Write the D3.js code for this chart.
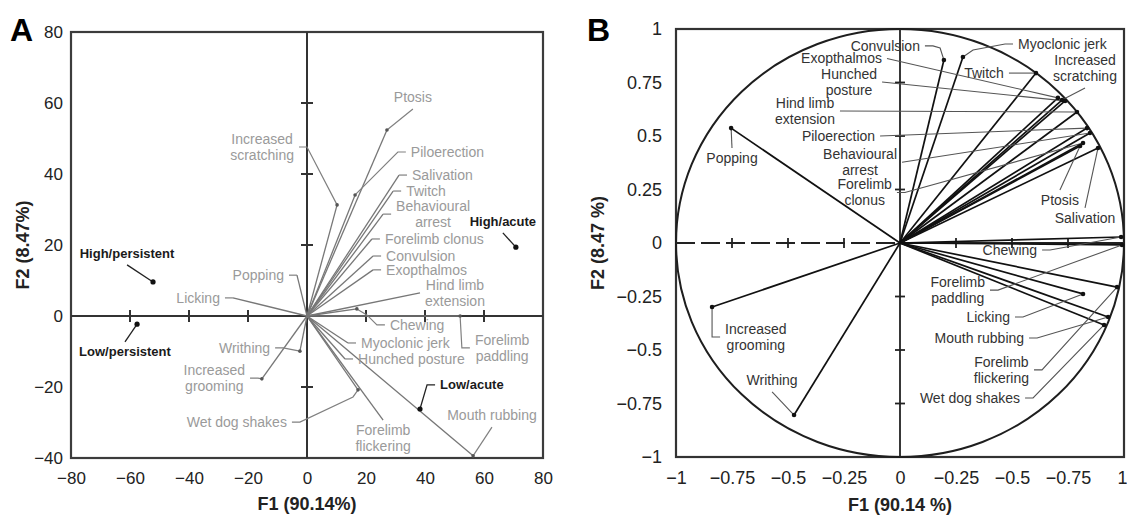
<!DOCTYPE html>
<html><head><meta charset="utf-8">
<script src="https://cdn.jsdelivr.net/npm/d3@7"></script>
<style>
body{margin:0;background:#fff;}
svg{display:block;font-family:"Liberation Sans",Arial,sans-serif;}
</style></head><body>
<svg id="chart" width="1127" height="516"></svg>
<script>
// ---- panel A : behaviour scores on F1 / F2 (%)
const aNames = ["Ptosis","Increased scratching","Piloerection","Salivation","Twitch","Behavioural arrest",
  "Forelimb clonus","Convulsion","Exopthalmos","Hind limb extension","Chewing","Forelimb paddling",
  "Myoclonic jerk","Hunched posture","Forelimb flickering","Mouth rubbing","Wet dog shakes","Writhing",
  "Increased grooming","Licking","Popping"]
const aF1 = [27.1,10.2,16.3,31.2,29.2,25.8,22,22.4,22.4,38.3,16.9,51.9,13.9,12.9,25.8,56.3,17.3,-2.4,-15.3,-25.1,-3.4]
const aF2 = [52.4,31.3,34.1,39.7,35.2,28.7,21.7,16.9,13,6.5,2,0,-7.6,-12.1,-29.3,-39.4,-20.8,-9.9,-17.7,5.1,11.5]

// treatment groups in panel A
const grpNames = ["High/persistent","Low/persistent","High/acute","Low/acute"]
const grpF1 = [-52.2,-57.6,70.8,38.3]
const grpF2 = [9.6,-2.3,19.4,-26.2]

const aTicksX = [-80,-60,-40,-20,0,20,40,60,80]
const aTicksY = [-40,-20,0,20,40,60,80]

// ---- panel B : correlation circle
const bNames = ["Convulsion","Myoclonic jerk","Twitch","Increased scratching","Exopthalmos","Hunched posture",
  "Hind limb extension","Piloerection","Behavioural arrest","Forelimb clonus","Ptosis","Salivation","Chewing",
  "Forelimb paddling","Licking","Mouth rubbing","Forelimb flickering","Wet dog shakes","Popping",
  "Increased grooming","Writhing"]
const bF1 = [0.196,0.281,0.607,0.723,0.705,0.737,0.79,0.835,0.848,0.817,0.804,0.884,0.987,0.991,0.817,0.929,0.969,0.911,-0.754,-0.839,-0.473]
const bF2 = [0.855,0.869,0.794,0.668,0.678,0.664,0.612,0.537,0.514,0.467,0.453,0.444,0.028,-0.009,-0.238,-0.346,-0.206,-0.383,0.537,-0.299,-0.804]

const bTicks = [-1,-0.75,-0.5,-0.25,0,0.25,0.5,0.75,1]
const bTickLabelsX = ["\u22121","\u22120.75","\u22120.5","\u22120.25","0","\u22120.25","\u22120.5","\u22120.75","1"]
const bTickLabelsY = ["\u22121","\u22120.75","\u22120.5","\u22120.25","0","0.25","0.5","0.75","1"]

// label placement: leader bends (same units as the panel), side of the text
const aLab = {
  "Ptosis": {via:[[35.9,58.3]], at:"t"},
  "Increased scratching": {via:[[0,47.6]], at:"l", wrap:true},
  "Piloerection": {via:[[30.8,46.2]], at:"r"},
  "Salivation": {via:[], at:"r"},
  "Twitch": {via:[], at:"r"},
  "Behavioural arrest": {via:[], at:"r", wrap:true},
  "Forelimb clonus": {via:[], at:"r"},
  "Convulsion": {via:[], at:"r"},
  "Exopthalmos": {via:[], at:"r"},
  "Hind limb extension": {via:[], at:"R", wrap:true},
  "Chewing": {via:[[20.3,0.3],[23.7,-2.5]], at:"r"},
  "Forelimb paddling": {via:[[52.5,-9]], at:"r", wrap:true},
  "Myoclonic jerk": {via:[], at:"r"},
  "Hunched posture": {via:[], at:"r"},
  "Forelimb flickering": {via:[], at:"b", wrap:true},
  "Mouth rubbing": {via:[[62.7,-31.3]], at:"t"},
  "Wet dog shakes": {via:[[15.6,-22.8],[-2.4,-29.9]], at:"l"},
  "Writhing": {via:[[-8.1,-9]], at:"l"},
  "Increased grooming": {via:[[-16.6,-17.5]], at:"l", wrap:true},
  "Licking": {via:[], at:"l"},
  "Popping": {via:[], at:"l"}
}
const gLab = {
  "High/persistent": {via:[[-61,14.4]], at:"t"},
  "Low/persistent": {via:[[-61.7,-7.3]], at:"b"},
  "High/acute": {via:[[66.4,23.4]], at:"t"},
  "Low/acute": {via:[[40.7,-19.4]], at:"r"}
}
const bLab = {
  "Convulsion": {via:[[0.179,0.911],[0.147,0.921]], at:"l"},
  "Myoclonic jerk": {via:[[0.326,0.902],[0.469,0.93]], at:"r"},
  "Twitch": {via:[[0.522,0.794]], at:"l"},
  "Increased scratching": {via:[[0.826,0.724]], at:"t", wrap:true},
  "Exopthalmos": {via:[[-0.058,0.862]], at:"L"},
  "Hunched posture": {via:[[-0.08,0.752]], at:"L", wrap:true},
  "Hind limb extension": {via:[[-0.268,0.617]], at:"L", wrap:true},
  "Piloerection": {via:[[-0.089,0.5]], at:"L"},
  "Behavioural arrest": {via:[[0.009,0.377]], at:"L", wrap:true},
  "Forelimb clonus": {via:[[0.022,0.236]], at:"l", wrap:true},
  "Ptosis": {via:[[0.714,0.248]], at:"b"},
  "Salivation": {via:[[0.826,0.164]], at:"b"},
  "Chewing": {via:[[0.67,-0.033]], at:"l"},
  "Forelimb paddling": {via:[[0.4375,-0.22]], at:"l", wrap:true},
  "Licking": {via:[[0.549,-0.346]], at:"l"},
  "Mouth rubbing": {via:[[0.612,-0.444]], at:"l"},
  "Forelimb flickering": {via:[[0.634,-0.593]], at:"l", wrap:true},
  "Wet dog shakes": {via:[[0.594,-0.724]], at:"l"},
  "Popping": {via:[[-0.75,0.444]], at:"b"},
  "Increased grooming": {via:[[-0.839,-0.439]], at:"r", wrap:true},
  "Writhing": {via:[[-0.571,-0.696]], at:"t"}
}

const svg = d3.select("#chart")
const LH = 16

function splitName(name, wrap) {
  if (!wrap) return [name]
  var k = name.lastIndexOf(" ")
  return [name.slice(0,k), name.slice(k+1)]
}

function drawLabel(g, sx, sy, end, lab, name, st) {
  var pts = [end].concat(lab.via).map(p => [sx(p[0]), sy(p[1])])
  var t = pts[pts.length-1]
  var side = lab.at.toLowerCase()
  if (lab.at === "l" || lab.at === "r") pts.push([t[0] + (side === "r" ? 8 : -8), t[1]])
  if (pts.length > 1) {
    g.append("path").attr("d", d3.line()(pts))
      .attr("fill","none").attr("stroke", st.lead).attr("stroke-width", st.leadW)
  }
  var lines = splitName(name, lab.wrap)
  var n = lines.length
  var txt = g.append("text").attr("font-size", st.fs).attr("fill", st.fill)
    .attr("font-weight", st.weight || "normal")
  var ts = lines.map(l => txt.append("tspan").text(l))
  if (side === "t" || side === "b") {
    txt.attr("text-anchor","middle")
    ts.forEach((s,i) => {
      var base = side === "t" ? t[1] - 7 - (n-1-i)*LH : t[1] + 5 + st.fs*0.72 + i*LH
      s.attr("x", t[0]).attr("y", base)
    })
  } else {
    var last = pts[pts.length-1]
    var edge = last[0] + (side === "r" ? 5 : -5)
    var w = ts.map(s => s.node().getComputedTextLength())
    var mw = d3.max(w)
    ts.forEach((s,i) => {
      var left = side === "r" ? edge + (mw - w[i])/2 : edge - mw + (mw - w[i])/2
      s.attr("x", left).attr("y", t[1] + (i - (n-1)/2)*LH + st.fs*0.35)
    })
  }
}

function styleAxis(g, fs) {
  g.select(".domain").remove()
  g.attr("font-size", fs).attr("font-family", null)
  g.selectAll("text").attr("fill","#222")
}

// =================== panel A
const ax = d3.scaleLinear().domain([-80,80]).range([71,543])
const ay = d3.scaleLinear().domain([-40,80]).range([458,32])
const gA = svg.append("g")

gA.append("g").attr("transform", `translate(0,${ay(-40)})`)
  .call(d3.axisBottom(ax).tickValues(aTicksX).tickSize(0).tickPadding(14))
  .call(g => styleAxis(g, 17))
gA.append("g").attr("transform", `translate(${ax(-80)},0)`)
  .call(d3.axisLeft(ay).tickValues(aTicksY).tickSize(0).tickPadding(8))
  .call(g => styleAxis(g, 17))

gA.append("rect").attr("x", ax(-80)).attr("y", ay(80))
  .attr("width", ax(80)-ax(-80)).attr("height", ay(-40)-ay(80))
  .attr("fill","none").attr("stroke","#3c3c3c").attr("stroke-width",2.2)

gA.append("line").attr("x1", ax(-80)).attr("x2", ax(80)).attr("y1", ay(0)).attr("y2", ay(0))
  .attr("stroke","#333").attr("stroke-width",2)
gA.append("line").attr("x1", ax(0)).attr("x2", ax(0)).attr("y1", ay(80)).attr("y2", ay(-40))
  .attr("stroke","#333").attr("stroke-width",2)
gA.selectAll(".tx").data(aTicksX.filter(v => v !== 0 && Math.abs(v) < 80)).enter().append("line")
  .attr("x1", d => ax(d)).attr("x2", d => ax(d)).attr("y1", ay(0)-6).attr("y2", ay(0)+6)
  .attr("stroke","#333").attr("stroke-width",2)
gA.selectAll(".ty").data(aTicksY.filter(v => v !== 0 && v < 80 && v > -40)).enter().append("line")
  .attr("x1", ax(0)-6).attr("x2", ax(0)+6).attr("y1", d => ay(d)).attr("y2", d => ay(d))
  .attr("stroke","#333").attr("stroke-width",2)

// vectors
gA.selectAll(".vec").data(aNames).enter().append("line")
  .attr("x1", ax(0)).attr("y1", ay(0))
  .attr("x2", (d,i) => ax(aF1[i])).attr("y2", (d,i) => ay(aF2[i]))
  .attr("stroke","#777").attr("stroke-width",1.3)
aNames.forEach((nm,i) => {
  drawLabel(gA, ax, ay, [aF1[i], aF2[i]], aLab[nm], nm,
    {fs:14, fill:"#9a9a9a", lead:"#808080", leadW:1.2})
})
gA.selectAll(".adot").data(aNames.filter(nm => aLab[nm].via.length > 0)).enter().append("circle")
  .attr("cx", d => ax(aF1[aNames.indexOf(d)])).attr("cy", d => ay(aF2[aNames.indexOf(d)]))
  .attr("r",1.8).attr("fill","#555")

// groups
grpNames.forEach((nm,i) => {
  drawLabel(gA, ax, ay, [grpF1[i], grpF2[i]], gLab[nm], nm,
    {fs:13, fill:"#1a1a1a", lead:"#222", leadW:1.3, weight:"bold"})
})
gA.selectAll(".gdot").data(grpNames).enter().append("circle")
  .attr("cx", (d,i) => ax(grpF1[i])).attr("cy", (d,i) => ay(grpF2[i]))
  .attr("r",2.6).attr("fill","#111")

gA.append("text").attr("x",10).attr("y",41).attr("font-size",32).attr("font-weight","bold").text("A")
gA.append("text").attr("x", ax(0)).attr("y",510).attr("text-anchor","middle")
  .attr("font-size",18).attr("font-weight","bold").attr("fill","#222").text("F1 (90.14%)")
gA.append("text").attr("transform","translate(29,245) rotate(-90)").attr("text-anchor","middle")
  .attr("font-size",18).attr("font-weight","bold").attr("fill","#222").text("F2 (8.47%)")

// =================== panel B
const bx = d3.scaleLinear().domain([-1,1]).range([676,1124])
const by = d3.scaleLinear().domain([-1,1]).range([457,29])
const gB = svg.append("g")

gB.append("g").attr("transform", `translate(0,${by(-1)})`)
  .call(d3.axisBottom(bx).tickValues(bTicks).tickSize(0).tickPadding(14)
    .tickFormat((d,i) => bTickLabelsX[i]))
  .call(g => styleAxis(g, 18))
  .call(g => g.selectAll(".tick:last-of-type text").attr("text-anchor","end").attr("dx", 3))
gB.append("g").attr("transform", `translate(${bx(-1)},0)`)
  .call(d3.axisLeft(by).tickValues(bTicks).tickSize(0).tickPadding(14)
    .tickFormat((d,i) => bTickLabelsY[i]))
  .call(g => styleAxis(g, 18))

gB.append("rect").attr("x", bx(-1)).attr("y", by(1))
  .attr("width", bx(1)-bx(-1)).attr("height", by(-1)-by(1))
  .attr("fill","none").attr("stroke","#333").attr("stroke-width",2.2)

gB.append("ellipse").attr("cx", bx(0)).attr("cy", by(0))
  .attr("rx", bx(1)-bx(0)).attr("ry", by(0)-by(1))
  .attr("fill","none").attr("stroke","#1e1e1e").attr("stroke-width",2)

gB.append("line").attr("x1", bx(-1)).attr("x2", bx(0)).attr("y1", by(0)).attr("y2", by(0))
  .attr("stroke","#222").attr("stroke-width",1.8).attr("stroke-dasharray","19,6")
gB.append("line").attr("x1", bx(0)).attr("x2", bx(1)).attr("y1", by(0)).attr("y2", by(0))
  .attr("stroke","#222").attr("stroke-width",1.8)
gB.append("line").attr("x1", bx(0)).attr("x2", bx(0)).attr("y1", by(1)).attr("y2", by(-1))
  .attr("stroke","#222").attr("stroke-width",1.8)
const innerB = bTicks.filter(v => v !== 0 && Math.abs(v) < 1)
gB.selectAll(".tx").data(innerB).enter().append("line")
  .attr("x1", d => bx(d)).attr("x2", d => bx(d)).attr("y1", by(0)-5).attr("y2", by(0)+5)
  .attr("stroke","#222").attr("stroke-width",1.8)
gB.selectAll(".ty").data(innerB).enter().append("line")
  .attr("x1", bx(0)-5).attr("x2", bx(0)+5).attr("y1", d => by(d)).attr("y2", d => by(d))
  .attr("stroke","#222").attr("stroke-width",1.8)

gB.selectAll(".vec").data(bNames).enter().append("line")
  .attr("x1", bx(0)).attr("y1", by(0))
  .attr("x2", (d,i) => bx(bF1[i])).attr("y2", (d,i) => by(bF2[i]))
  .attr("stroke","#111").attr("stroke-width",1.7)
bNames.forEach((nm,i) => {
  drawLabel(gB, bx, by, [bF1[i], bF2[i]], bLab[nm], nm,
    {fs:14, fill:"#333", lead:"#555", leadW:1.1})
})
gB.selectAll(".bdot").data(bNames).enter().append("circle")
  .attr("cx", (d,i) => bx(bF1[i])).attr("cy", (d,i) => by(bF2[i]))
  .attr("r",2.3).attr("fill","#111")

gB.append("text").attr("x",587).attr("y",41).attr("font-size",32).attr("font-weight","bold").text("B")
gB.append("text").attr("x", bx(0)).attr("y",511).attr("text-anchor","middle")
  .attr("font-size",18).attr("font-weight","bold").attr("fill","#222").text("F1 (90.14 %)")
gB.append("text").attr("transform","translate(604,243) rotate(-90)").attr("text-anchor","middle")
  .attr("font-size",18).attr("font-weight","bold").attr("fill","#222").text("F2 (8.47 %)")
</script>
</body></html>
